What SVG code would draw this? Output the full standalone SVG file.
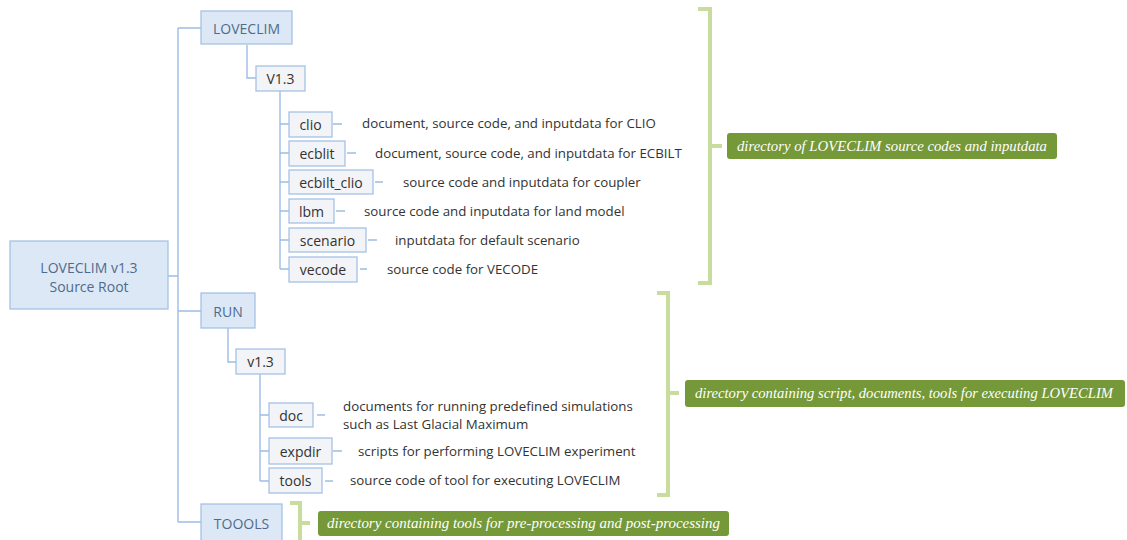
<svg xmlns="http://www.w3.org/2000/svg" width="1127" height="540" viewBox="0 0 1127 540">
<style>
.bg{fill:#ffffff}
.main rect{fill:#dde8f6;stroke:#a5c2e6;stroke-width:1.3}
.main text{font-family:"Open Sans","DejaVu Sans",sans-serif;font-size:14px;fill:#4f6b8c;text-anchor:middle;dominant-baseline:central}
.leaf rect{fill:#f2f4f7;stroke:#a5c2e6;stroke-width:1.3}
.leaf text{font-family:"Open Sans","DejaVu Sans",sans-serif;font-size:14px;fill:#333333;text-anchor:middle;dominant-baseline:central}
.desc{font-family:"Open Sans","DejaVu Sans",sans-serif;font-size:13.3px;fill:#333333;dominant-baseline:central}
.conn path{fill:none;stroke:#9dbde4;stroke-width:1.4}
.brk path{fill:none;stroke:#c8dc9e;stroke-width:4}
.note rect{fill:#759838}
.note text{font-family:"Liberation Serif","DejaVu Serif",serif;font-style:italic;font-size:14px;fill:#ffffff;dominant-baseline:central}
</style>
<rect class="bg" x="0" y="0" width="1127" height="540"/>

<g id="connectors" class="conn">
  <path d="M168 276H178M178 28V522M178 28H201M178 311H201M178 522H201"/>
  <path d="M247 45V78H256"/>
  <path d="M280 91V269M280 124H289M280 153H289M280 182H289M280 211H289M280 240H289M280 269H289"/>
  <path d="M333 124H342M347 153H356M375 182H383M336 211H345M368 240H377M360 269H367"/>
  <path d="M228 328V362H236"/>
  <path d="M260 374V481M260 415H269M260 451H269M260 481H269"/>
  <path d="M317 415H325M333 451H342M325 481H333"/>
</g>

<g id="root" class="main"><rect x="10" y="241" width="158" height="68"/><text x="89" y="267">LOVECLIM v1.3</text><text x="89" y="286">Source Root</text></g>
<g id="loveclim" class="main"><rect x="201" y="11" width="91" height="33"/><text x="246.5" y="28">LOVECLIM</text></g>
<g id="v13a" class="leaf"><rect x="256" y="66" width="49" height="25"/><text x="280.5" y="78.5">V1.3</text></g>
<g id="clio" class="leaf"><rect x="289" y="112" width="43" height="25"/><text x="310.5" y="124.5">clio</text></g>
<g id="ecblit" class="leaf"><rect x="289" y="141" width="56" height="25"/><text x="317" y="153.5">ecblit</text></g>
<g id="ecbilt_clio" class="leaf"><rect x="289" y="170" width="84" height="24"/><text x="331" y="182">ecbilt_clio</text></g>
<g id="lbm" class="leaf"><rect x="289" y="199" width="45" height="24"/><text x="311.5" y="211">lbm</text></g>
<g id="scenario" class="leaf"><rect x="289" y="228" width="77" height="24"/><text x="327.5" y="240">scenario</text></g>
<g id="vecode" class="leaf"><rect x="289" y="257" width="68" height="25"/><text x="323" y="269.5">vecode</text></g>

<g id="desc-loveclim">
  <text class="desc" x="362" y="123">document, source code, and inputdata for CLIO</text>
  <text class="desc" x="375" y="153">document, source code, and inputdata for ECBILT</text>
  <text class="desc" x="403" y="182">source code and inputdata for coupler</text>
  <text class="desc" x="364" y="211">source code and inputdata for land model</text>
  <text class="desc" x="395" y="240">inputdata for default scenario</text>
  <text class="desc" x="387" y="269">source code for VECODE</text>
</g>

<g id="run" class="main"><rect x="201" y="293" width="54" height="35"/><text x="228" y="311">RUN</text></g>
<g id="v13b" class="leaf"><rect x="236" y="349" width="49" height="25"/><text x="260.5" y="361.5">v1.3</text></g>
<g id="doc" class="leaf"><rect x="269" y="403" width="44" height="24"/><text x="291" y="415">doc</text></g>
<g id="expdir" class="leaf"><rect x="269" y="438" width="63" height="26"/><text x="300.5" y="451">expdir</text></g>
<g id="tools" class="leaf"><rect x="269" y="468" width="53" height="25"/><text x="295.5" y="480.5">tools</text></g>

<g id="desc-run">
  <text class="desc" x="343" y="406">documents for running predefined simulations</text>
  <text class="desc" x="343" y="424">such as Last Glacial Maximum</text>
  <text class="desc" x="358" y="451">scripts for performing LOVECLIM experiment</text>
  <text class="desc" x="350" y="480">source code of tool for executing LOVECLIM</text>
</g>

<g id="toools" class="main"><rect x="201" y="504" width="81" height="40"/><text x="241.5" y="523">TOOOLS</text></g>

<g id="brackets" class="brk">
  <path d="M698 9H710V283H698M710 146H722"/>
  <path d="M657 293H668V495H657M668 393H679"/>
  <path d="M290 503H300V545M300 523H310"/>
</g>

<g id="note1" class="note"><rect x="727" y="133" width="330" height="26" rx="3"/><text x="737" y="146" textLength="310" lengthAdjust="spacingAndGlyphs">directory of LOVECLIM source codes and inputdata</text></g>
<g id="note2" class="note"><rect x="685" y="380" width="440" height="27" rx="3"/><text x="695" y="393.5" textLength="418" lengthAdjust="spacingAndGlyphs">directory containing script, documents, tools for executing LOVECLIM</text></g>
<g id="note3" class="note"><rect x="318" y="511" width="411" height="25" rx="3"/><text x="327" y="523.5" textLength="393" lengthAdjust="spacingAndGlyphs">directory containing tools for pre-processing and post-processing</text></g>
</svg>
